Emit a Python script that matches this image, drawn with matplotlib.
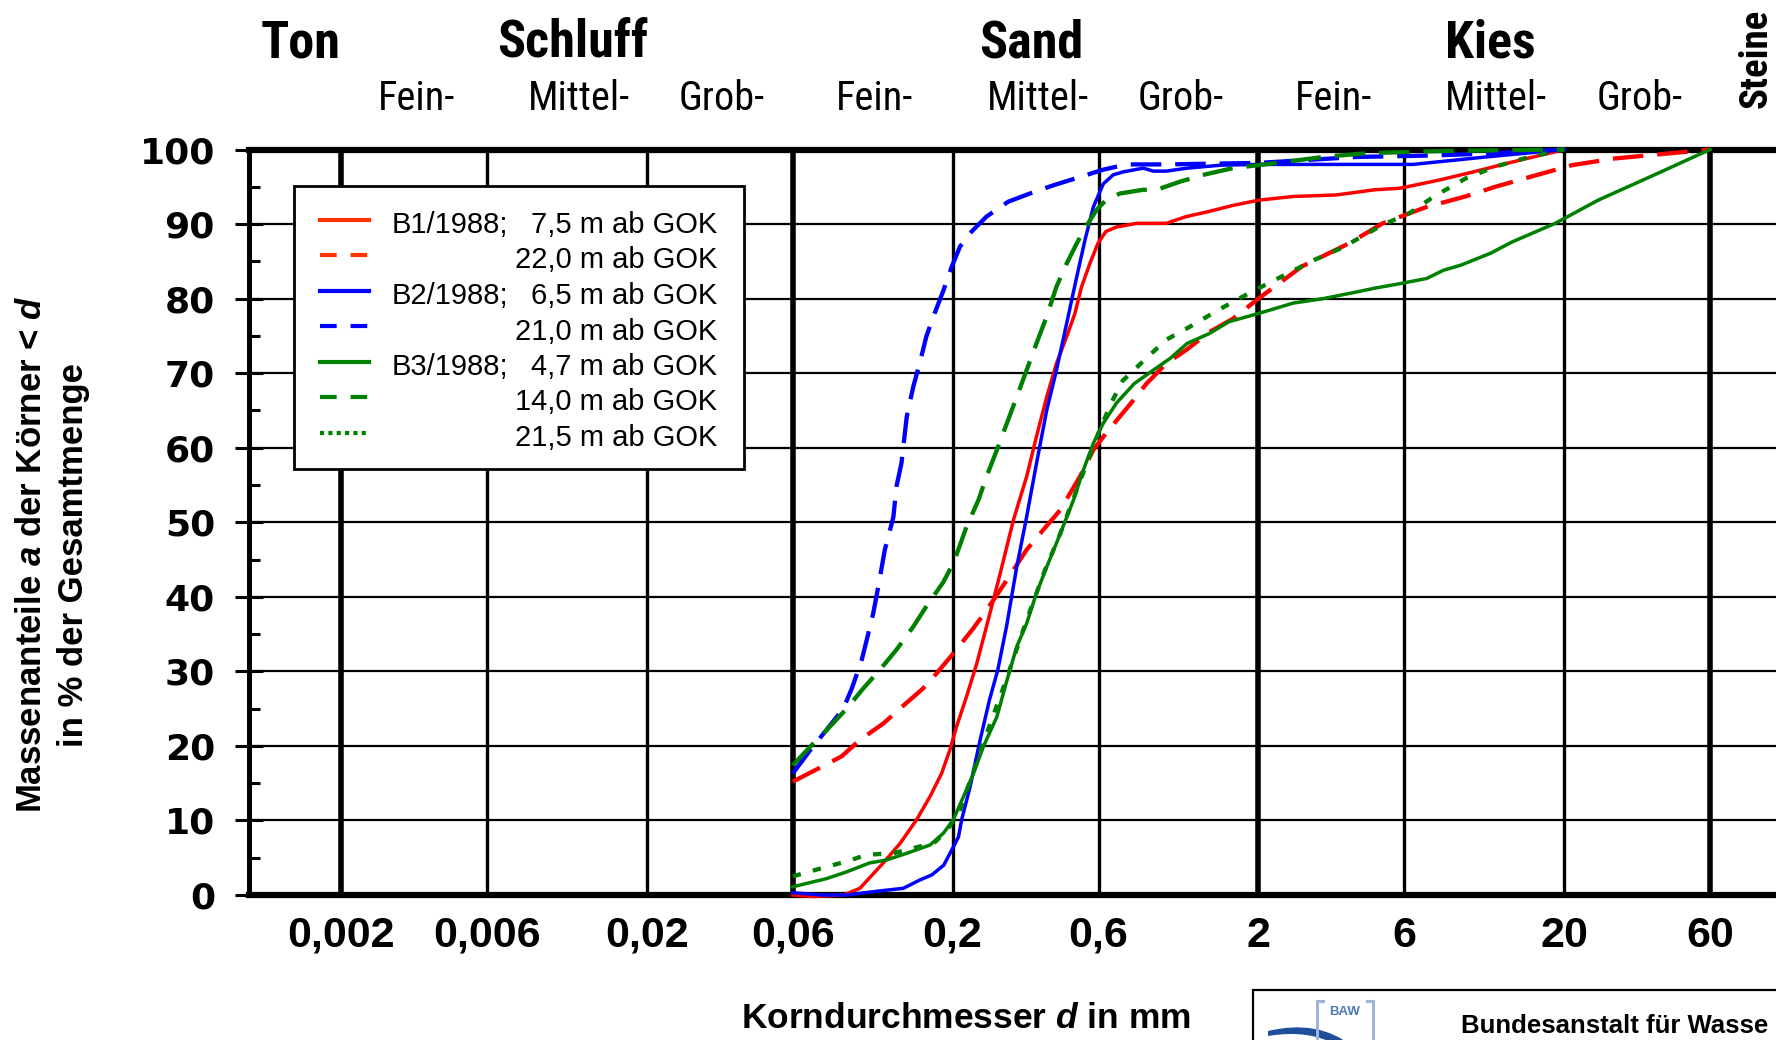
import matplotlib
matplotlib.use("Agg")
import matplotlib.pyplot as plt
import matplotlib.transforms as mtransforms
from matplotlib import font_manager
from matplotlib.lines import Line2D
from matplotlib.patches import Rectangle, PathPatch
from matplotlib.path import Path
import numpy as np

plt.rcParams['lines.scale_dashes'] = False
plt.rcParams['mathtext.fontset'] = 'custom'
plt.rcParams['mathtext.rm'] = 'Liberation Sans'
plt.rcParams['mathtext.it'] = 'Liberation Sans:italic'
plt.rcParams['mathtext.bf'] = 'Liberation Sans:bold'
plt.rcParams['mathtext.bfit'] = 'Liberation Sans:italic:bold'
plt.rcParams['font.family'] = ['Liberation Sans', 'DejaVu Sans']

# ---------------- data ----------------
grain_ticks = [0.002, 0.006, 0.02, 0.06, 0.2, 0.6, 2, 6, 20, 60]
grain_tick_labels = ['0,002', '0,006', '0,02', '0,06', '0,2', '0,6', '2', '6', '20', '60']
class_bounds = [0.002, 0.06, 2, 60]
main_classes = ['Ton', 'Schluff', 'Sand', 'Kies']
main_class_limits = [0.001, 0.002, 0.06, 2, 60]
sub_classes = ['Fein-', 'Mittel-', 'Grob-', 'Fein-', 'Mittel-', 'Grob-', 'Fein-', 'Mittel-', 'Grob-']
sub_class_limits = [0.002, 0.006, 0.02, 0.06, 0.2, 0.6, 2, 6, 20, 60]
stone_label = 'Steine'
percent_ticks = [0, 10, 20, 30, 40, 50, 60, 70, 80, 90, 100]

# B1/1988, 7,5 m
b1_75_d = [0.06, 0.07, 0.088, 0.0995, 0.1186, 0.1345, 0.1525, 0.1686, 0.184, 0.196, 0.206, 0.222,
           0.240, 0.258, 0.286, 0.316, 0.349, 0.376, 0.406, 0.437, 0.472, 0.502, 0.528, 0.562,
           0.597, 0.634, 0.686, 0.80, 1.0, 1.16, 1.35, 1.65, 2.0, 2.6, 3.59, 4.8, 5.8, 7.8,
           10.1, 14.4, 18.7, 20]
b1_75_a = [0.0, -0.2, 0.0, 0.9, 4.3, 6.9, 10.1, 13.2, 16.3, 19.5, 22.6, 26.6,
           31.1, 36.0, 43.1, 50.3, 56.1, 61.5, 66.8, 71.3, 74.9, 78.0, 81.6, 84.7,
           87.4, 89.0, 89.6, 90.1, 90.1, 91.0, 91.6, 92.5, 93.2, 93.7, 93.9, 94.6, 94.8, 95.9,
           97.0, 98.6, 99.7, 100]
# B1/1988, 22,0 m
b1_220_d = [0.06, 0.0746, 0.0867, 0.0995, 0.1186, 0.1345, 0.160, 0.177, 0.201, 0.234, 0.258,
            0.286, 0.316, 0.349, 0.396, 0.449, 0.521, 0.577, 0.634, 0.705, 0.785, 0.861, 1.0,
            1.16, 1.38, 1.65, 2.0, 2.77, 3.95, 5.1, 7.1, 9.5, 11.9, 15.4, 21.2, 29.3, 44.6, 60]
b1_220_a = [15.2, 17.2, 18.6, 20.8, 23.0, 25.0, 27.7, 29.7, 32.4, 35.8, 38.2,
            40.9, 43.6, 46.3, 49.0, 51.6, 56.1, 59.7, 61.9, 64.2, 66.5, 68.6, 71.3,
            73.1, 75.5, 77.3, 80.0, 84.3, 87.4, 90.1, 92.3, 93.7, 95.0, 96.3, 97.9, 98.8, 99.5, 100]
# B2/1988, 6,5 m
b2_65_d = [0.06, 0.075, 0.09, 0.113, 0.138, 0.156, 0.171, 0.187, 0.199, 0.209, 0.214, 0.228,
           0.246, 0.264, 0.281, 0.300, 0.324, 0.349, 0.376, 0.406, 0.437, 0.472, 0.509, 0.542,
           0.577, 0.622, 0.670, 0.722, 0.84, 0.906, 1.0, 1.17, 1.51, 2.0, 6.4, 11.1, 20]
b2_65_a = [0.3, 0.0, 0.0, 0.5, 0.9, 2.0, 2.7, 4.0, 6.1, 7.8, 10.1, 14.5,
           20.8, 26.2, 30.2, 36.0, 44.0, 50.7, 57.9, 65.0, 70.4, 76.7, 82.9, 87.9,
           92.3, 95.4, 96.6, 97.0, 97.5, 97.1, 97.1, 97.5, 97.9, 98.0, 98.0, 99.0, 100]
# B2/1988, 21,0 m
b2_210_d = [0.06, 0.0692, 0.0765, 0.0878, 0.0936, 0.1008, 0.1047, 0.110, 0.1143, 0.120, 0.128,
            0.131, 0.136, 0.1416, 0.1487, 0.156, 0.164, 0.173, 0.1866, 0.1987, 0.2115, 0.2308,
            0.258, 0.304, 0.358, 0.427, 0.521, 0.622, 0.741, 1.0, 2.0, 4.2, 7.5, 12, 20]
b2_210_a = [16.3, 19.7, 21.9, 25.0, 27.7, 31.5, 34.2, 37.8, 41.4, 46.3, 50.7,
            54.8, 57.9, 64.2, 68.2, 71.3, 74.9, 77.6, 81.1, 84.3, 87.0, 89.0,
            91.0, 93.0, 94.1, 95.2, 96.3, 97.3, 98.0, 98.0, 98.2, 99.0, 99.2, 99.5, 100]
# B3/1988, 4,7 m
b3_47_d = [0.06, 0.0774, 0.090, 0.107, 0.1216, 0.1416, 0.1686, 0.1866, 0.201, 0.217, 0.234,
           0.252, 0.279, 0.301, 0.324, 0.349, 0.376, 0.406, 0.437, 0.497, 0.535, 0.577, 0.622,
           0.687, 0.785, 0.906, 1.03, 1.17, 1.38, 1.6, 2.0, 2.6, 3.26, 4.2, 4.8, 5.8, 7.1,
           8.05, 9.2, 11.5, 13.5, 18.7, 25.8, 38, 60]
b3_47_a = [1.1, 2.2, 3.1, 4.3, 4.7, 5.6, 6.7, 8.3, 10.1, 13.2, 16.3,
           19.9, 23.9, 28.8, 33.3, 36.4, 40.5, 44.0, 47.2, 53.0, 57.0, 60.6, 63.3,
           66.0, 68.6, 70.4, 72.0, 74.0, 75.3, 76.9, 78.0, 79.4, 80.0, 80.9, 81.4, 82.0, 82.7,
           83.8, 84.5, 86.1, 87.6, 90.1, 93.2, 96.3, 100]
# B3/1988, 14,0 m
b3_140_d = [0.06, 0.0692, 0.0774, 0.090, 0.102, 0.1156, 0.131, 0.1487, 0.164, 0.1866, 0.202,
            0.222, 0.243, 0.258, 0.279, 0.301, 0.324, 0.349, 0.376, 0.406, 0.437, 0.472, 0.509,
            0.545, 0.591, 0.634, 0.705, 0.84, 0.93, 1.11, 1.32, 1.65, 2.2, 3.26, 4.5, 8, 20]
b3_140_a = [17.4, 20.1, 22.1, 25.0, 27.7, 30.2, 32.9, 36.0, 38.7, 42.0, 44.7,
            49.4, 53.0, 56.1, 59.7, 63.3, 66.8, 70.4, 74.0, 77.6, 81.6, 84.7, 87.4,
            89.6, 91.9, 93.2, 94.1, 94.6, 94.6, 95.7, 96.6, 97.5, 98.1, 99.0, 99.5, 99.8, 100]
# B3/1988, 21,5 m
b3_215_d = [0.06, 0.0746, 0.090, 0.1047, 0.128, 0.156, 0.173, 0.19, 0.21, 0.25, 0.30, 0.35,
            0.40, 0.45, 0.50, 0.55, 0.60, 0.66, 0.72, 0.87, 1.0, 1.19, 1.44, 1.69, 2.05, 2.5,
            3.05, 3.7, 4.35, 5.1, 6.2, 7.5, 9.5, 11.9, 15.4, 20]
b3_215_a = [2.5, 3.6, 4.5, 5.4, 5.6, 6.5, 6.9, 8.5, 11.0, 20.0, 29.0, 37.0,
            43.5, 48.5, 53.5, 58.0, 62.0, 66.0, 69.0, 72.2, 74.5, 76.2, 78.2, 79.8, 81.6, 83.4,
            85.2, 86.7, 88.3, 89.9, 91.4, 93.7, 96.1, 97.7, 99.0, 100]

legend_prefix = ['B1/1988;', '', 'B2/1988;', '', 'B3/1988;', '', '']
legend_depth = ['7,5 m ab GOK', '22,0 m ab GOK', '6,5 m ab GOK', '21,0 m ab GOK',
                '4,7 m ab GOK', '14,0 m ab GOK', '21,5 m ab GOK']

# ---------------- styles ----------------
RED, BLUE, GREEN = '#ff0000', '#0000ff', '#008000'
LEG_RED = '#ff3300'
series = [
    (b1_75_d, b1_75_a, dict(color=RED, lw=2.5, ls='-')),
    (b1_220_d, b1_220_a, dict(color=RED, lw=3.1, dashes=(22, 10))),
    (b2_65_d, b2_65_a, dict(color=BLUE, lw=2.5, ls='-')),
    (b2_210_d, b2_210_a, dict(color=BLUE, lw=3.1, dashes=(22, 10))),
    (b3_47_d, b3_47_a, dict(color=GREEN, lw=2.5, ls='-')),
    (b3_140_d, b3_140_a, dict(color=GREEN, lw=3.1, dashes=(22, 10))),
    (b3_215_d, b3_215_a, dict(color=GREEN, lw=3.1, dashes=(6, 9))),
]
legend_styles = [
    dict(color=LEG_RED, lw=3.0, ls='-'),
    dict(color=LEG_RED, lw=3.0, dashes=(12, 10)),
    dict(color=BLUE, lw=3.0, ls='-'),
    dict(color=BLUE, lw=3.0, dashes=(12, 10)),
    dict(color=GREEN, lw=3.0, ls='-'),
    dict(color=GREEN, lw=3.0, dashes=(12, 10)),
    dict(color=GREEN, lw=3.0, dashes=(3, 3)),
]

avail = {f.name for f in font_manager.fontManager.ttflist}
NARROW, nscale = 'Liberation Sans', 0.84
for cand in ['Liberation Sans Narrow', 'Arial Narrow', 'Roboto Condensed', 'Archivo Narrow']:
    if cand in avail:
        NARROW, nscale = cand, 1.0
        break

W, H = 1776, 1040
fig = plt.figure(figsize=(W / 100, H / 100), dpi=100)
AX_L, AX_R, AX_T, AX_B = 249, 1778, 149.5, 895
ax = fig.add_axes([AX_L / W, (H - AX_B) / H, (AX_R - AX_L) / W, (AX_B - AX_T) / H])


def axfrac(xp, yp):
    return ((xp - AX_L) / (AX_R - AX_L), (AX_B - yp) / (AX_B - AX_T))


ax.set_xscale('log')
ax.set_xlim(0.001, 100)
ax.set_ylim(0, 100)

# grid
for v in grain_ticks:
    ax.axvline(v, color='black', lw=4.0 if v in class_bounds else 2.4, zorder=1)
for p in percent_ticks[1:-1]:
    ax.axhline(p, color='black', lw=1.6, zorder=1)

# curves
for d, a, st in series:
    ax.plot(d, a, zorder=3, clip_on=False, solid_joinstyle='round', **st)

# spines
for s in ['top', 'bottom']:
    ax.spines[s].set_linewidth(4.5)
ax.spines['left'].set_linewidth(3.6)
ax.spines['right'].set_visible(False)

# ticks
ax.set_xticks(grain_ticks)
ax.set_xticklabels(grain_tick_labels)
ax.xaxis.set_minor_locator(matplotlib.ticker.NullLocator())
ax.tick_params(axis='x', which='major', length=0, pad=15)
for lbl in ax.get_xticklabels():
    lbl.set_fontfamily('Liberation Sans')
    lbl.set_fontweight('bold')
    lbl.set_fontsize(31)

ax.set_yticks(percent_ticks)
ax.set_yticks([p + 5 for p in percent_ticks[:-1]], minor=True)
ax.tick_params(axis='y', which='major', direction='inout', length=20, width=2.2, pad=14.5)
ax.tick_params(axis='y', which='minor', direction='in', length=8, width=2.2)
for lbl in ax.get_yticklabels():
    lbl.set_fontfamily('DejaVu Sans')
    lbl.set_fontweight('bold')
    lbl.set_fontsize(26)

# legend (manual, right aligned depth texts)
lx0, ly0 = axfrac(294, 469)
lx1, ly1 = axfrac(744, 186)
ax.add_patch(Rectangle((lx0, ly0), lx1 - lx0, ly1 - ly0, transform=ax.transAxes,
                       facecolor='white', edgecolor='black', lw=2.0, zorder=4))
for i, (pre, dep, st) in enumerate(zip(legend_prefix, legend_depth, legend_styles)):
    yc = 219.5 + 35.5 * i
    xa, ya = axfrac(320, yc)
    xb, _ = axfrac(369, yc)
    ax.add_line(Line2D([xa, xb], [ya, ya], transform=ax.transAxes, zorder=5, **st))
    _, yb = axfrac(0, yc + 13.5)
    if pre:
        ax.text(axfrac(392, 0)[0], yb, pre, transform=ax.transAxes, ha='left', va='baseline',
                fontsize=21, family='Liberation Sans', zorder=6)
    ax.text(axfrac(717, 0)[0], yb, dep, transform=ax.transAxes, ha='right', va='baseline',
            fontsize=21, family='Liberation Sans', zorder=6)

# soil class labels above the axes
trans_top = mtransforms.blended_transform_factory(ax.transData, fig.transFigure)
for i, name in enumerate(main_classes):
    xm = np.sqrt(main_class_limits[i] * main_class_limits[i + 1])
    tr = mtransforms.offset_copy(trans_top, fig=fig, x=6, units='dots')
    ax.text(xm, 1 - 58 / H, name, transform=tr, ha='center', va='baseline',
            fontsize=37.5 * nscale, fontweight='bold', family=NARROW, clip_on=False)
for i, name in enumerate(sub_classes):
    xm = np.sqrt(sub_class_limits[i] * sub_class_limits[i + 1])
    dx = 12 if name.startswith('Mittel') else 2
    tr = mtransforms.offset_copy(trans_top, fig=fig, x=dx, units='dots')
    ax.text(xm, 1 - 110 / H, name, transform=tr, ha='center', va='baseline',
            fontsize=29 * nscale, family=NARROW, clip_on=False)
fig.text(1756 / W, 1 - 58 / H, stone_label, rotation=90, ha='center', va='center',
         fontsize=28 * nscale, fontweight='bold', family=NARROW)

# axis titles
fig.text(966 / W, 1 - 1019 / H, r'Korndurchmesser $\mathbfit{d}$ in mm', ha='center', va='center',
         fontsize=25.5, fontweight='bold', family='Liberation Sans')
fig.text(32 / W, 1 - 554 / H, r'Massenanteile $\mathbfit{a}$ der Körner < $\mathbfit{d}$', rotation=90,
         ha='center', va='center', fontsize=25, fontweight='bold', family='Liberation Sans')
fig.text(74 / W, 1 - 555 / H, 'in % der Gesamtmenge', rotation=90,
         ha='center', va='center', fontsize=25, fontweight='bold', family='Liberation Sans')


# BAW logo box (bottom right, cut by the page edge)
def fp(x, y):
    return (x / W, 1 - y / H)


fig.add_artist(Rectangle(fp(1253, 1060), (1800 - 1253) / W, 70 / H, transform=fig.transFigure,
                         fill=False, edgecolor='black', lw=1.6, clip_on=False))
sw = [fp(1268, 1031), fp(1318, 1019), fp(1352, 1046), fp(1338, 1046), fp(1310, 1029),
      fp(1268, 1036), fp(1268, 1031)]
codes = [Path.MOVETO, Path.CURVE3, Path.CURVE3, Path.LINETO, Path.CURVE3, Path.CURVE3, Path.CLOSEPOLY]
fig.add_artist(PathPatch(Path(sw, codes), transform=fig.transFigure, facecolor='#1f4f9c',
                         edgecolor='none'))
for (xa, ya), (xb, yb) in [((1317, 1001), (1317, 1045)), ((1317, 1001), (1323, 1001)),
                           ((1373, 1001), (1373, 1045)), ((1373, 1001), (1367, 1001))]:
    fig.add_artist(Line2D([xa / W, xb / W], [1 - ya / H, 1 - yb / H], transform=fig.transFigure,
                          color='#9db6d9', lw=2.2))
fig.text(1345 / W, 1 - 1012 / H, 'BAW', ha='center', va='center', fontsize=9.5,
         fontweight='bold', color='#4f7ab8', family='Liberation Sans')
fig.text(1461 / W, 1 - 1033 / H, 'Bundesanstalt für Wasse', ha='left', va='baseline',
         fontsize=18.5, fontweight='bold', family='Liberation Sans')

fig.savefig('out.png', dpi=100)
